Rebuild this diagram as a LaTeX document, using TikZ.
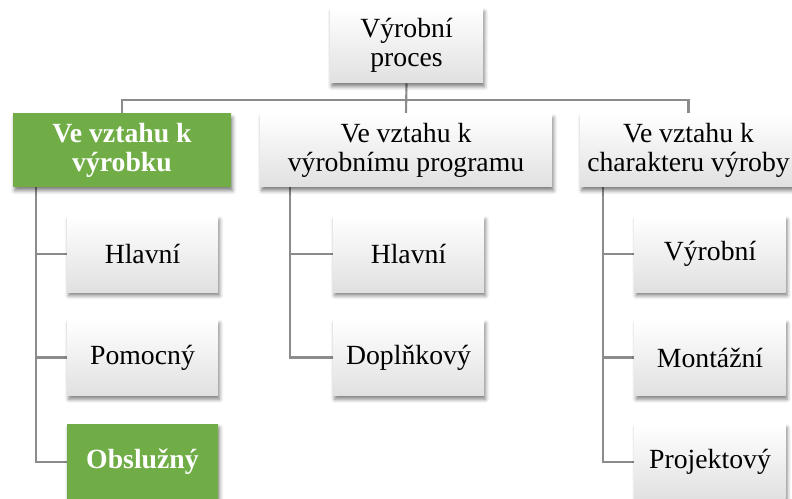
\documentclass[tikz,border=0pt]{standalone}
\usepackage{fontspec}
\setmainfont{Liberation Serif}
\usetikzlibrary{shadows.blur,backgrounds}
\definecolor{officegreen}{HTML}{70AD47}
\definecolor{linkgray}{HTML}{8C8C8C}
\tikzset{
  box/.style={rectangle, shading=axis, top color=white, bottom color=black!12,
    draw=none, align=center, inner sep=2pt,
    font=\fontsize{20.8}{21.8}\selectfont,
    blur shadow={shadow xshift=1.2pt, shadow yshift=-2.8pt, shadow blur radius=2.8pt, shadow opacity=50}},
  headbox/.style={box},
  itembox/.style={box, minimum width=113.25pt, minimum height=57pt},
  greenbox/.style={top color=officegreen, bottom color=officegreen,
    text=white, font=\bfseries\fontsize{20.8}{21.8}\selectfont},
  link/.style={draw=linkgray, line width=1.6pt}
}
\begin{document}
\begin{tikzpicture}[x=0.75pt, y=-0.75pt]
\useasboundingbox (0,0) rectangle (792,499);

% root
\node[headbox, minimum width=114.75pt, minimum height=56.25pt] (root) at (406.5,45.5) {Výrobní\\proces};

% second level
\node[headbox, greenbox, minimum width=163.5pt, minimum height=54.75pt] (prod) at (122,150.5) {Ve vztahu k\\výrobku};
\node[headbox, minimum width=219pt, minimum height=54.75pt] (prog) at (406,150.5) {Ve vztahu k\\výrobnímu programu};
\node[headbox, minimum width=162.75pt, minimum height=54.75pt] (char) at (688.5,150.5) {Ve vztahu k\\charakteru výroby};

% items under "výrobku"
\node[itembox] (p1) at (142.5,254) {Hlavní};
\node[itembox] (p2) at (142.5,357.5) {Pomocný};
\node[itembox, greenbox] (p3) at (142.5,462) {Obslužný};

% items under "výrobnímu programu"
\node[itembox] (g1) at (408.5,254) {Hlavní};
\node[itembox] (g2) at (408.5,357.5) {Doplňkový};

% items under "charakteru výroby"
\node[itembox] (c1) at (710,254) {Výrobní};
\node[itembox] (c2) at (710,357.5) {Montážní};
\node[itembox] (c3) at (710,462) {Projektový};

% trunks for the item lists
\coordinate (ptrunk) at (36,187);
\coordinate (gtrunk) at (290,187);
\coordinate (ctrunk) at (603,187);

\begin{scope}[on background layer]
% root to second level
\draw[link] (root.south) -- (prog.north);
\draw[link] (root.south) ++(0,16.5) -| (prod.north);
\draw[link] (root.south) ++(0,16.5) -| (char.north);

% second level to items
\draw[link] (ptrunk) |- (p3.west);
\draw[link] (ptrunk) |- (p1.west);
\draw[link] (ptrunk) |- (p2.west);
\draw[link] (gtrunk) |- (g2.west);
\draw[link] (gtrunk) |- (g1.west);
\draw[link] (ctrunk) |- (c3.west);
\draw[link] (ctrunk) |- (c1.west);
\draw[link] (ctrunk) |- (c2.west);
\end{scope}
\end{tikzpicture}
\end{document}
